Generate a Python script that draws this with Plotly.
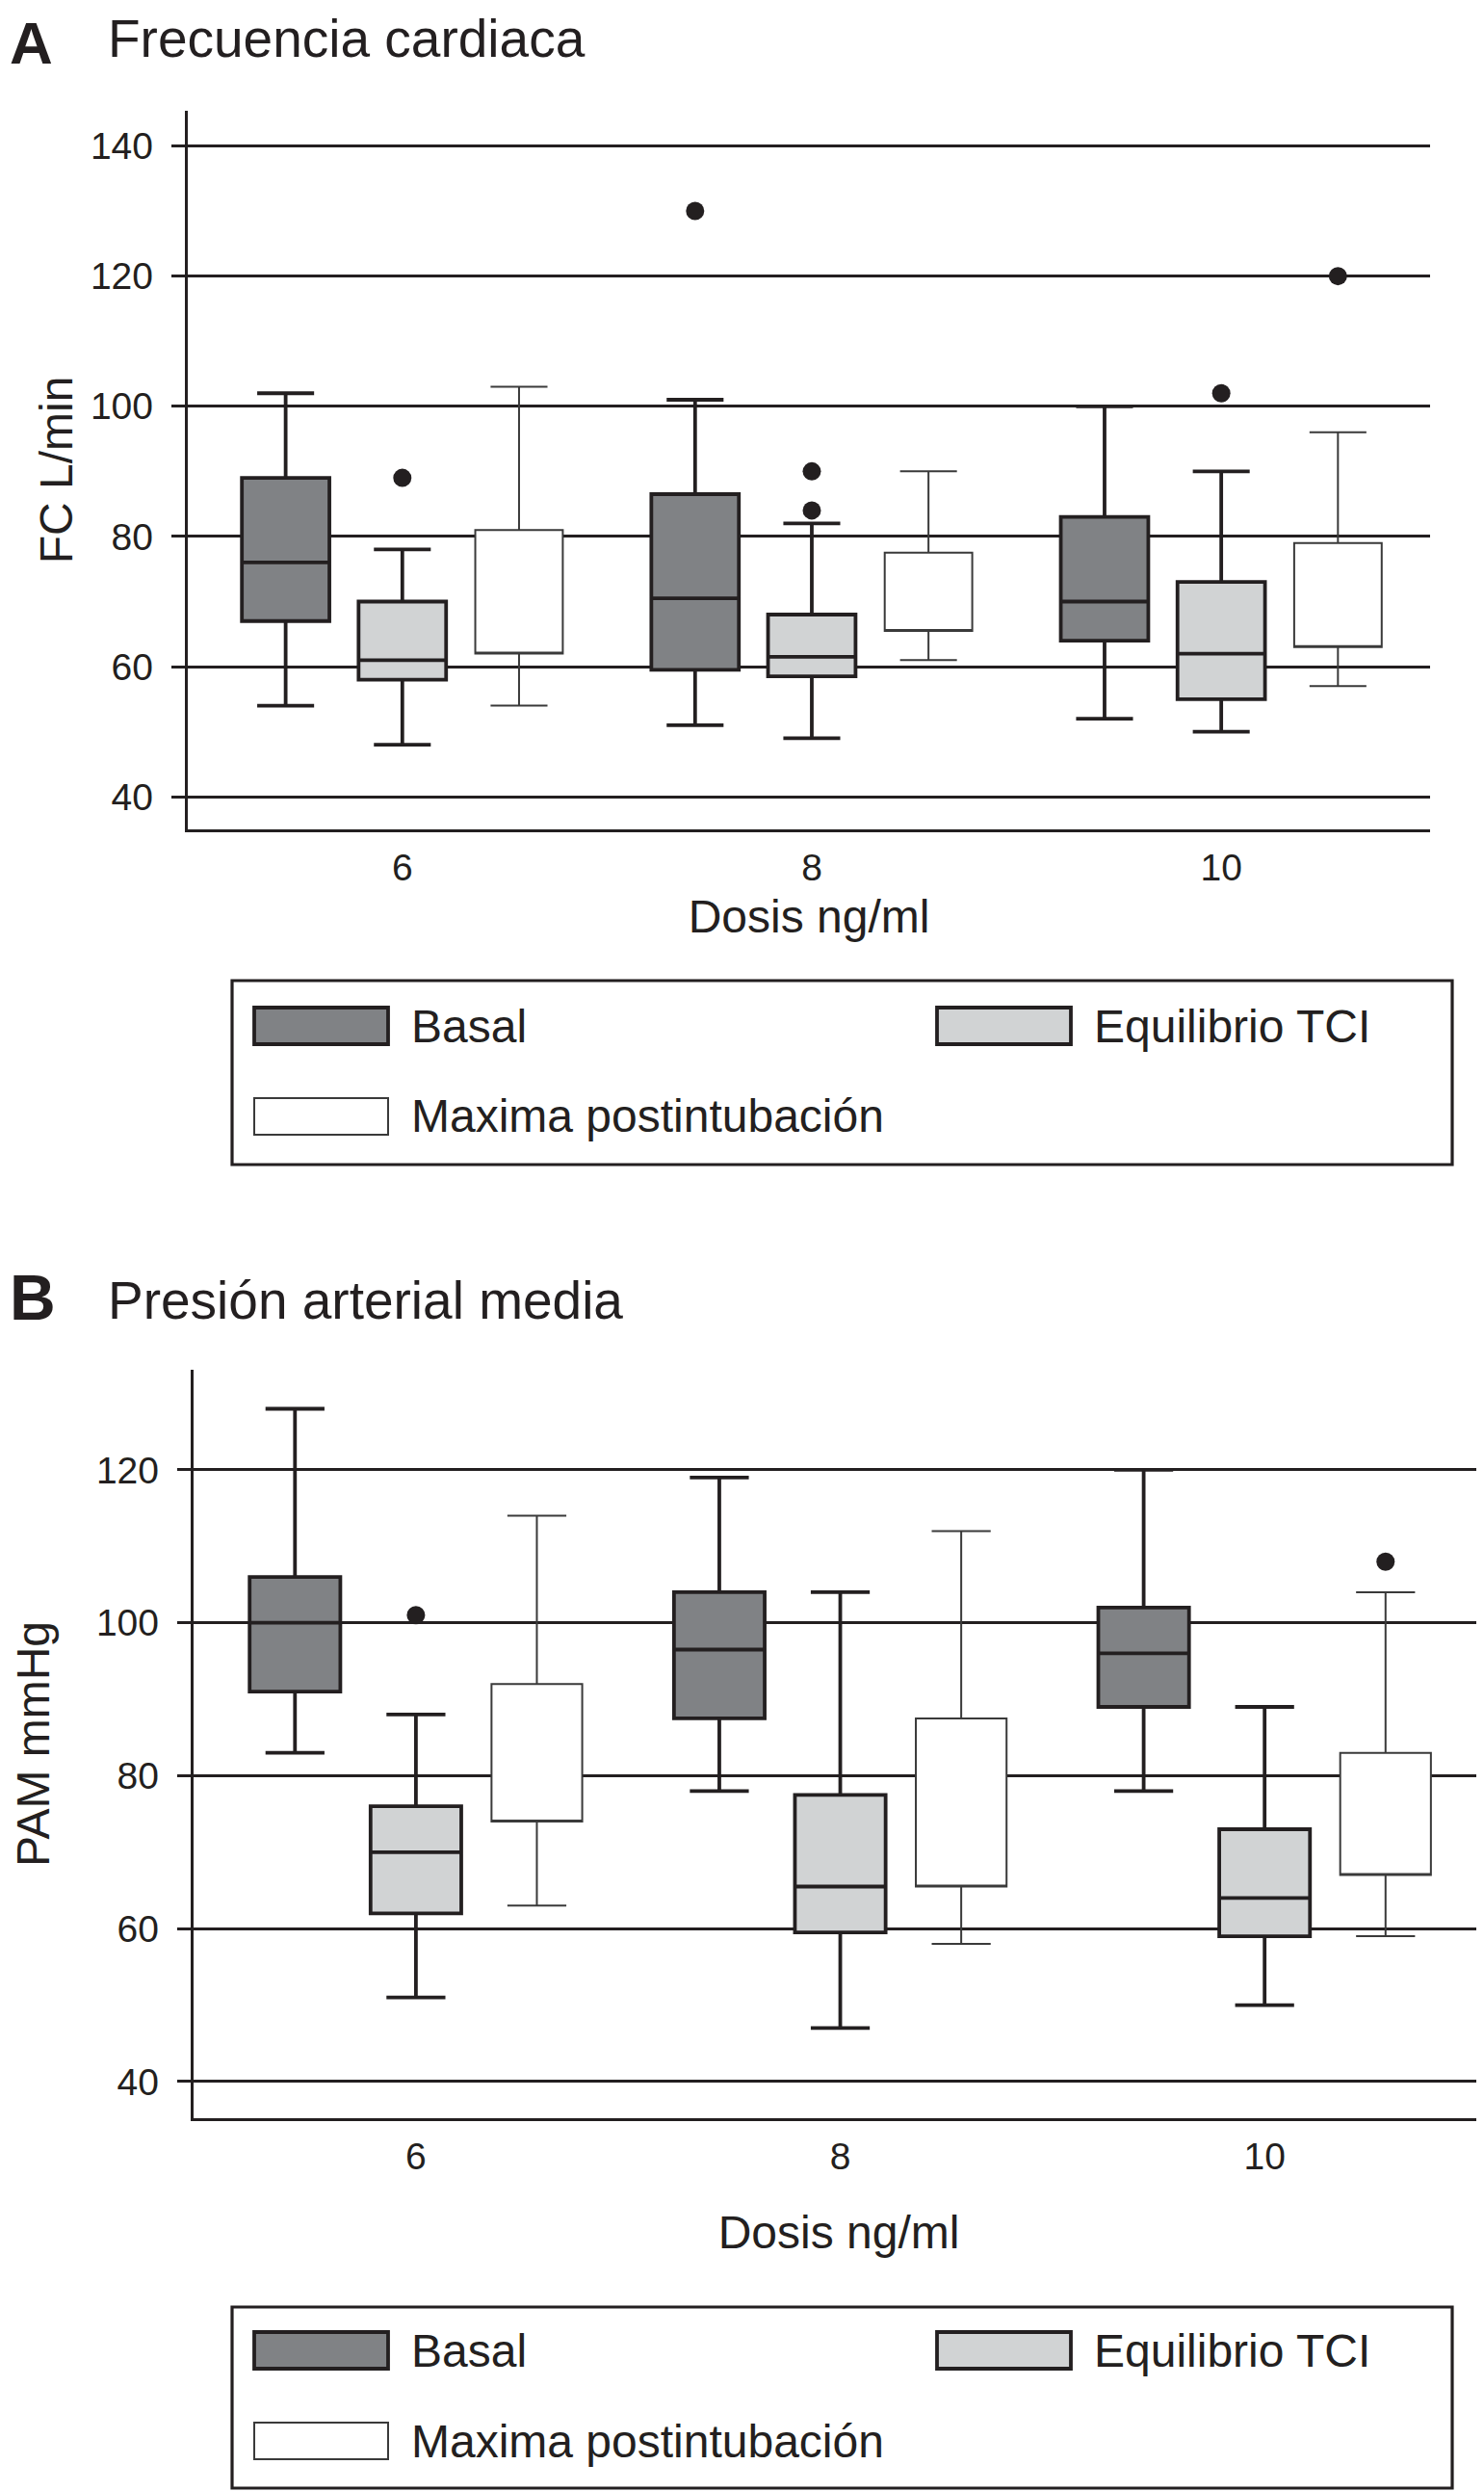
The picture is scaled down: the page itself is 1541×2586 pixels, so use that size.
import plotly.graph_objects as go

doses = ["6", "8", "10"]
groups = ["Basal", "Equilibrio TCI", "Maxima postintubación"]

# A - Frecuencia cardiaca (L/min); one inner list per group, one value per dose
fc_lower = [[54, 51, 52], [48, 49, 50], [54, 61, 57]]
fc_q1 = [[67, 59.5, 64], [58, 58.5, 55], [62, 65.5, 63]]
fc_median = [[76, 70.5, 70], [61, 61.5, 62], [62, 65.5, 63]]
fc_q3 = [[89, 86.5, 83], [70, 68, 73], [81, 77.5, 79]]
fc_upper = [[102, 101, 100], [78, 82, 90], [103, 90, 96]]
# outliers per dose (None = no outlier)
fc_outliers = [[[None], [130], [None]], [[89], [90, 84], [102]], [[None], [None], [120]]]

# B - Presion arterial media (mmHg)
pam_lower = [[83, 78, 78], [51, 47, 50], [63, 58, 59]]
pam_q1 = [[91, 87.5, 89], [62, 59.5, 59], [74, 65.5, 67]]
pam_median = [[100, 96.5, 96], [70, 65.5, 64], [74, 65.5, 67]]
pam_q3 = [[106, 104, 102], [76, 77.5, 73], [92, 87.5, 83]]
pam_upper = [[128, 119, 120], [88, 104, 89], [114, 112, 104]]
pam_outliers = [[[None], [None], [None]], [[101], [None], [None]], [[None], [None], [108]]]

fc_ticks = [40, 60, 80, 100, 120, 140]
pam_ticks = [40, 60, 80, 100, 120]

# page body adds an 8px margin, so the figure is a bit smaller than the window
OFF = 8
W, H = 1541 - OFF, 2586 - OFF
INK = "#231f20"
FONT = "Liberation Sans, Arial, sans-serif"
fills = ["#808285", "#d1d3d4", "#ffffff"]
edge_w = [3.8, 3.8, 2]
edge_c = [INK, INK, "#3a3a3a"]


def fx(x):
    return (x - OFF) / W


def fy(y):
    return 1 - (y - OFF) / H


fig = go.Figure()

panels = [
    ("x", "y", fc_lower, fc_q1, fc_median, fc_q3, fc_upper, fc_outliers),
    ("x2", "y2", pam_lower, pam_q1, pam_median, pam_q3, pam_upper, pam_outliers),
]
for xa, ya, lo, q1, med, q3, up, outl in panels:
    for i, name in enumerate(groups):
        fig.add_trace(go.Box(
            x=doses, y=outl[i],
            lowerfence=lo[i], q1=q1[i], median=med[i], q3=q3[i], upperfence=up[i],
            name=name, offsetgroup=name, showlegend=False,
            boxpoints="outliers", pointpos=0, jitter=0,
            fillcolor=fills[i], line=dict(color=edge_c[i], width=edge_w[i]),
            whiskerwidth=0.65,
            marker=dict(color=INK, size=19, line=dict(width=0)),
            xaxis=xa, yaxis=ya, hoverinfo="skip",
        ))

axis_common = dict(showline=True, linewidth=3.4, linecolor=INK,
                   tickfont=dict(size=39, color=INK, family=FONT),
                   title_font=dict(size=48, color=INK, family=FONT))
xcommon = dict(axis_common, type="category", showgrid=False, ticks="",
               ticklabelstandoff=3)
ycommon = dict(axis_common, showgrid=True, gridcolor=INK, gridwidth=3.4,
               ticks="outside", ticklen=14, tickwidth=3.4, tickcolor=INK,
               zeroline=False, ticklabelstandoff=11)

fig.update_layout(
    width=W, height=H,
    margin=dict(l=0, r=0, t=0, b=0),
    paper_bgcolor="white", plot_bgcolor="white",
    font=dict(family=FONT, color=INK),
    boxmode="group", boxgap=0.145, boxgroupgap=0.25,
    xaxis=dict(xcommon, domain=[fx(195), fx(1485)], range=[-0.524, 2.51],
               anchor="y", title=dict(text="Dosis ng/ml", standoff=14)),
    yaxis=dict(ycommon, domain=[fy(861), fy(115)], range=[35, 145.4],
               tickvals=fc_ticks, anchor="x",
               title=dict(text="FC L/min", standoff=4)),
    xaxis2=dict(xcommon, domain=[fx(201), 1.0], range=[-0.524, 2.517],
                anchor="y2", title=dict(text="Dosis ng/ml", standoff=42)),
    yaxis2=dict(ycommon, domain=[fy(2199), fy(1422)], range=[35.2, 133.1],
                tickvals=pam_ticks, anchor="x2",
                title=dict(text="PAM mmHg", standoff=58)),
)

# panel letters and titles
fig.add_annotation(text="<b>A</b>", x=0, y=1, xref="paper", yref="paper",
                   xanchor="left", yanchor="top", showarrow=False,
                   font=dict(size=62, color=INK, family=FONT))
fig.add_annotation(text="<b>B</b>", x=0, y=fy(1347), xref="paper", yref="paper",
                   xanchor="left", yanchor="middle", showarrow=False,
                   font=dict(size=66, color=INK, family=FONT))
for title, yc in [("Frecuencia cardiaca", 40), ("Presión arterial media", 1350)]:
    fig.add_annotation(text=title, x=fx(110), y=fy(yc), xref="paper", yref="paper",
                       xanchor="left", yanchor="middle", showarrow=False,
                       font=dict(size=55, color=INK, family=FONT))

# legends drawn as framed boxes with large swatches
legend_frames = [(1018, 1209, [1046, 1046, 1140]), (2395, 2583, [2421, 2421, 2515])]
swatch_x = [264, 973, 264]
for top, bottom, rows in legend_frames:
    fig.add_shape(type="rect", xref="paper", yref="paper",
                  x0=fx(241), x1=fx(1508), y0=fy(bottom), y1=fy(top),
                  line=dict(color=INK, width=3.2), fillcolor="rgba(0,0,0,0)")
    for i, name in enumerate(groups):
        sx, sy = swatch_x[i], rows[i]
        fig.add_shape(type="rect", xref="paper", yref="paper",
                      x0=fx(sx), x1=fx(sx + 139), y0=fy(sy + 38), y1=fy(sy),
                      line=dict(color=edge_c[i], width=edge_w[i]), fillcolor=fills[i])
        fig.add_annotation(text=name, x=fx(sx + 161), y=fy(sy + 19), xref="paper", yref="paper",
                           xanchor="left", yanchor="middle", showarrow=False,
                           font=dict(size=48, color=INK, family=FONT))

fig.write_html("out.html")
